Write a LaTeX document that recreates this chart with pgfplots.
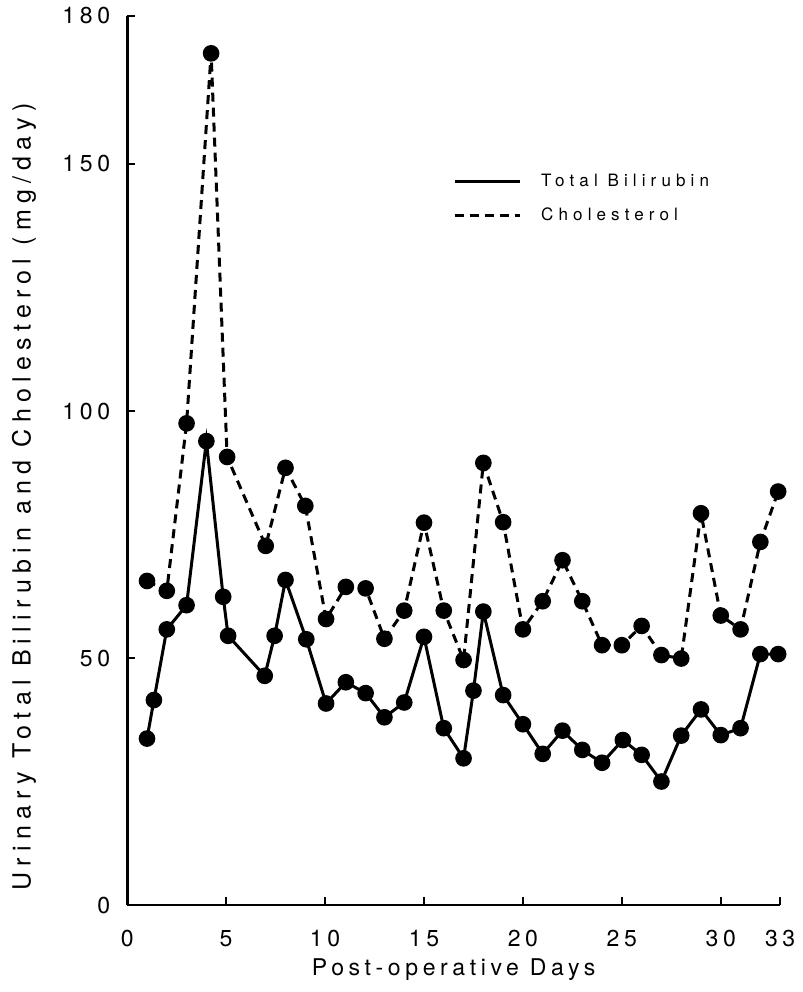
\documentclass[border=0pt]{standalone}
\usepackage{fontspec}
\setmainfont{TeX Gyre Heros}
\newfontfamily\axfont{TeX Gyre Heros}[LetterSpace=20]
\newfontfamily\ylfont{TeX Gyre Heros}[LetterSpace=25]
\newfontfamily\legfont{TeX Gyre Heros}[LetterSpace=30]
\usepackage{pgfplots}
\pgfplotsset{compat=1.18}
\begin{document}
\begin{tikzpicture}
\begin{axis}[
  scale only axis, width=326pt, height=444pt,
  xmin=0, xmax=33, ymin=0, ymax=180,
  clip=false,
  axis x line*=bottom, axis y line*=left,
  axis line style={-, line width=1.3pt},
  xtick={0,5,10,15,20,25,30,33}, ytick={0,50,100,150,180},
  minor tick num=0,
  tick align=inside, major tick length=4pt,
  tick style={line width=1pt, black},
  /pgf/number format/assume math mode=true,
  ticklabel style={font=\fontsize{11.5}{13}\axfont},
  xticklabel shift=9pt, yticklabel shift=5pt,
  xlabel={Post-operative Days},
  ylabel={Urinary Total Bilirubin and Cholesterol (mg/day)},
  xlabel style={font=\fontsize{11.5}{13}\axfont, at={(axis description cs:0.5,-0.0725)}, anchor=center},
  ylabel style={font=\fontsize{12.5}{14}\ylfont, at={(axis description cs:-0.158,0.459)}, anchor=center},
  legend image code/.code={\draw[#1] (0pt,0pt) -- (32.5pt,0pt);},
  legend cell align=left,
  legend style={draw=none, fill=none, font=\fontsize{8.5}{10}\legfont,
    at={(axis cs:16.45,143)}, anchor=west, inner sep=0pt,
    row sep=5pt, column sep=8pt},
]
\path (axis cs:-6.43,-17.6) rectangle (axis cs:34.13,183.2);

\addplot[black, line width=1.5pt, mark=*, mark size=3.4pt, mark options={solid, fill=black}, forget plot]
coordinates {
(1,33.7) (1.35,41.5) (2,55.8) (3,60.7) (4,93.9) (4.85,62.4) (5.1,54.5)
(6.95,46.4) (7.45,54.5) (8,65.8) (9.05,53.8) (10.05,40.8) (11.05,45.1)
(12.05,42.9) (13,38.0) (14,41.0) (15,54.3) (16,35.8) (17,29.7) (17.5,43.4)
(18,59.4) (19,42.5) (20,36.6) (21,30.6) (22,35.3) (23,31.4) (24,28.8)
(25.05,33.4) (26,30.4) (27,25.0) (28,34.3) (29,39.6) (30,34.4) (31,35.8)
(32,50.8) (32.9,50.8)
};

\addplot[black, line width=1.5pt, dash pattern=on 4.5pt off 3pt, mark=*, mark size=3.4pt, mark options={solid, fill=black}, forget plot]
coordinates {
(1,65.6) (2,63.6) (3,97.5) (4.24,172.4) (5.05,90.7) (7,72.7) (8,88.5)
(9,80.8) (10.05,57.9) (11.05,64.4) (12.05,64.1) (13,53.9) (14,59.6)
(15,77.4) (16,59.6) (17,49.6) (18,89.5) (19,77.5) (20,55.8) (21,61.5)
(22,69.8) (23,61.5) (24,52.6) (25,52.6) (26,56.5) (27,50.6) (28,49.9)
(29,79.3) (30,58.6) (31,55.8) (32,73.5) (32.9,83.7)
};

\addlegendimage{black, line width=1.5pt}
\addlegendentry{Total Bilirubin}
\addlegendimage{black, line width=1.5pt, dash pattern=on 4.5pt off 3pt}
\addlegendentry{Cholesterol}
\end{axis}
\end{tikzpicture}
\end{document}
